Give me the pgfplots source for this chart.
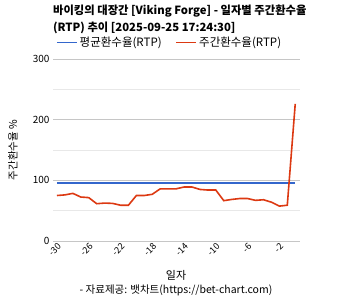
\documentclass[border=0pt]{standalone}
\usepackage{fontspec}
\setmainfont{Noto Sans CJK KR}
\usepackage{pgfplots}
\pgfplotsset{compat=1.18}
\definecolor{rtpblue}{HTML}{3366CC}
\definecolor{rtpred}{HTML}{DC3912}
\begin{document}
\begin{tikzpicture}
\useasboundingbox (0,0) rectangle (353pt,300pt);
\begin{axis}[
  at={(53pt,59pt)}, anchor=south west,
  scale only axis, width=247pt, height=182pt,
  xmin=-30.5, xmax=0.6, ymin=0, ymax=300,
  /pgf/number format/assume math mode=true,
  axis line style={draw=none},
  tick style={draw=none},
  ytick={0,100,200,300},
  minor ytick={50,150,250},
  ymajorgrids, yminorgrids,
  major grid style={gray!45},
  minor grid style={gray!18},
  extra y ticks={0}, extra y tick labels={},
  extra y tick style={grid style={black!85, line width=0.8pt}},
  xtick={-30,-26,...,-2},
  xticklabel style={rotate=45, anchor=north east, font=\fontsize{9}{10}\selectfont, inner sep=1pt},
  yticklabel style={font=\fontsize{10}{11}\selectfont},
  legend style={at={(0,1.09)}, anchor=west, draw=none, fill=none, legend columns=2,
    font=\fontsize{11.5}{13}\selectfont, /tikz/every even column/.append style={column sep=12pt}},
  legend image code/.code={\draw[#1, line width=1.5pt] (0pt,0pt) -- (20pt,0pt);},
]
\addplot[rtpblue, line width=1.6pt] coordinates {(-30,96) (0,96)};
\addlegendentry{평균환수율(RTP)}
\addplot[rtpred, line width=1.6pt] coordinates {
(-30,75) (-29,76) (-28,78.5) (-27,72.5) (-26,71.5) (-25,61.5) (-24,62.5) (-23,62) (-22,59) (-21,59)
(-20,75) (-19,75) (-18,77) (-17,86) (-16,86) (-15,86) (-14,89) (-13,89) (-12,85) (-11,84)
(-10,84) (-9,66.5) (-8,68.5) (-7,70) (-6,70) (-5,67) (-4,68) (-3,64) (-2,57.5) (-1,59) (0,226)};
\addlegendentry{주간환수율(RTP)}
\end{axis}
\node[anchor=north west, align=left, inner sep=0pt, font=\bfseries\fontsize{11.3}{17}\selectfont] at (53pt,295pt)
  {바이킹의 대장간 [Viking Forge] - 일자별 주간환수율\\(RTP) 추이 [2025-09-25 17:24:30]};
\node[rotate=90, font=\fontsize{10.5}{12}\selectfont] at (13pt,150pt) {주간환수율 \%};
\node[font=\fontsize{11}{12}\selectfont] at (176pt,25pt) {일자};
\node[font=\fontsize{10.5}{12}\selectfont] at (176pt,10pt) {- 자료제공: 뱃차트(https://bet-chart.com)};
\end{tikzpicture}
\end{document}
